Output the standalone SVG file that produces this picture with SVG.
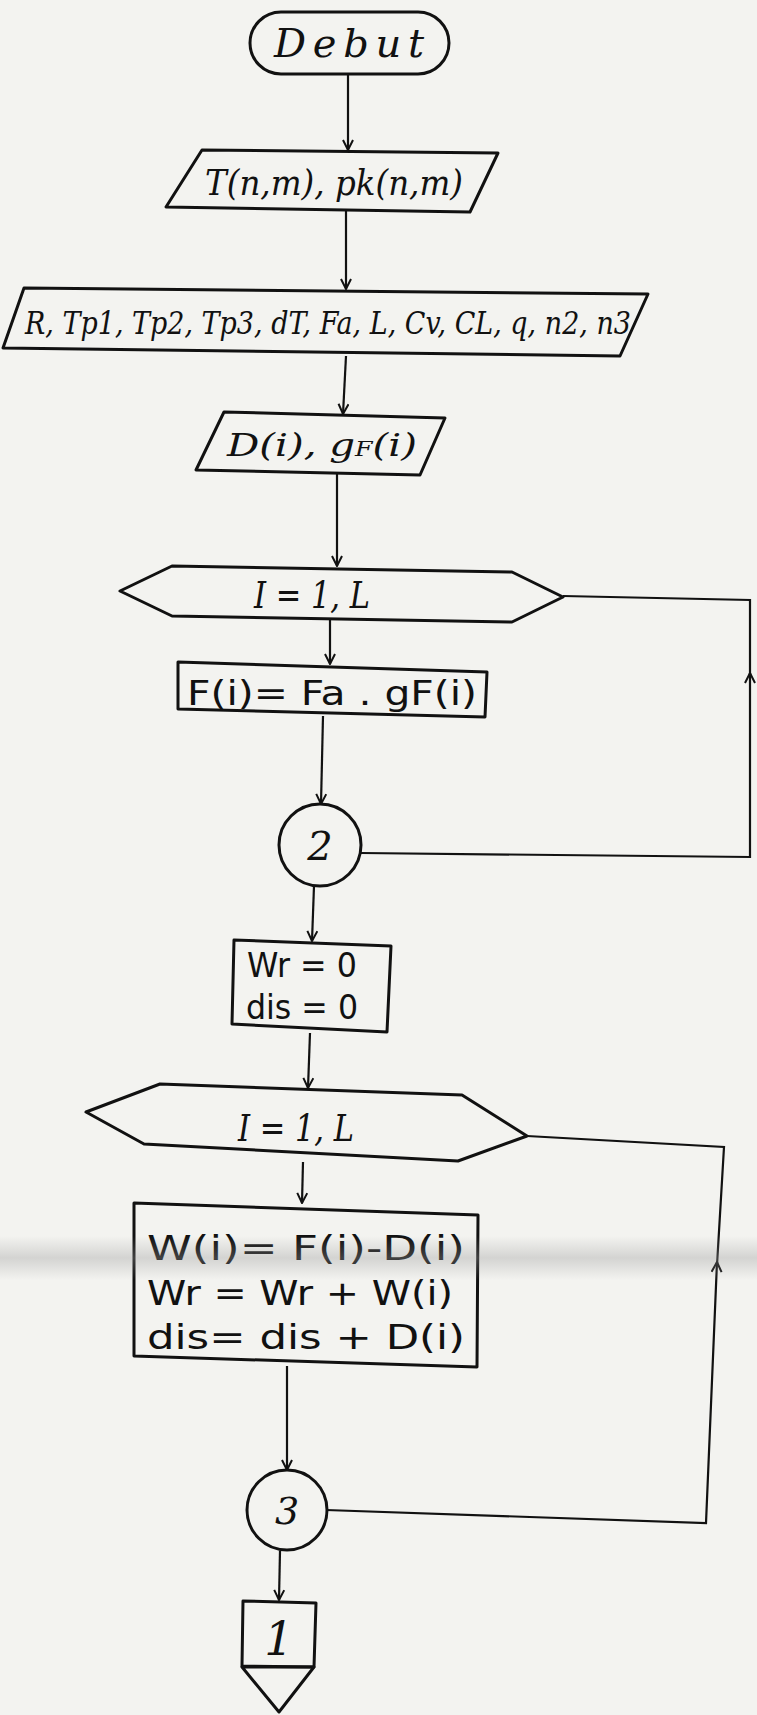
<svg xmlns="http://www.w3.org/2000/svg" width="757" height="1715" viewBox="0 0 757 1715">
<defs>
<marker id="arr" viewBox="0 0 12 12" refX="11" refY="6" markerWidth="12" markerHeight="12" markerUnits="userSpaceOnUse" orient="auto">
<path d="M1,1 L11,6 L1,11" fill="none" stroke="#111" stroke-width="2"/>
</marker>
<linearGradient id="band" x1="0" y1="0" x2="0" y2="1">
<stop offset="0" stop-color="#999" stop-opacity="0"/>
<stop offset="0.5" stop-color="#999" stop-opacity="0.35"/>
<stop offset="1" stop-color="#999" stop-opacity="0"/>
</linearGradient>
</defs>
<style>
.s{fill:none;stroke:#111;stroke-width:3;stroke-linejoin:round}
.c{fill:none;stroke:#111;stroke-width:2.2}
.hs{font-family:"DejaVu Serif","Liberation Serif",serif;font-style:italic;fill:#111}
.hn{font-family:"DejaVu Sans","Liberation Sans",sans-serif;fill:#111}
</style>
<rect width="757" height="1715" fill="#f3f3f0"/>

<g id="connectors">
<path class="c" d="M348,74 L348,150" marker-end="url(#arr)"/>
<path class="c" d="M346,210 L346,289" marker-end="url(#arr)"/>
<path class="c" d="M346,356 L343,414" marker-end="url(#arr)"/>
<path class="c" d="M337,473 L337,566" marker-end="url(#arr)"/>
<path class="c" d="M330,619 L330,664" marker-end="url(#arr)"/>
<path class="c" d="M323,716 L321,804" marker-end="url(#arr)"/>
<path class="c" d="M361,853 L750,857 L750,673" marker-end="url(#arr)"/>
<path class="c" d="M750,676 L750,600 L563,596"/>
<path class="c" d="M314,886 L312,941" marker-end="url(#arr)"/>
<path class="c" d="M310,1033 L308,1088" marker-end="url(#arr)"/>
<path class="c" d="M303,1162 L302,1203" marker-end="url(#arr)"/>
<path class="c" d="M287,1366 L287,1470" marker-end="url(#arr)"/>
<path class="c" d="M326,1510 L706,1523 L717,1262" marker-end="url(#arr)"/>
<path class="c" d="M717,1265 L724,1147 L527,1136"/>
<path class="c" d="M280,1551 L279,1600" marker-end="url(#arr)"/>
</g>

<g id="debut">
<rect class="s" x="250" y="12" width="199" height="62" rx="31"/>
<text class="hs" x="349" y="57" font-size="40" text-anchor="middle" textLength="150" lengthAdjust="spacing">Debut</text>
</g>

<g id="input1">
<polygon class="s" points="202,150 498,153 470,212 166,207"/>
<text class="hs" x="334" y="195" font-size="36" text-anchor="middle" textLength="258" lengthAdjust="spacingAndGlyphs">T(n,m), pk(n,m)</text>
</g>

<g id="input2">
<polygon class="s" points="24,288 648,294 620,356 3,348"/>
<text class="hs" x="328" y="334" font-size="32" text-anchor="middle" textLength="606" lengthAdjust="spacingAndGlyphs">R, Tp1, Tp2, Tp3, dT, Fa, L, Cv, CL, q, n2, n3</text>
</g>

<g id="input3">
<polygon class="s" points="224,412 445,418 420,475 196,470"/>
<text class="hs" x="322" y="456" font-size="32" text-anchor="middle" textLength="190" lengthAdjust="spacingAndGlyphs">D(i), g<tspan font-size="20">F</tspan>(i)</text>
</g>

<g id="loop1">
<polygon class="s" points="120,591 172,566 512,572 563,597 512,622 172,616"/>
<text class="hs" x="312" y="608" font-size="38" text-anchor="middle" textLength="116" lengthAdjust="spacingAndGlyphs">I = 1, L</text>
</g>

<g id="calcF">
<polygon class="s" points="178,662 487,672 485,717 178,709"/>
<text class="hn" x="332" y="705" font-size="34" text-anchor="middle" textLength="290" lengthAdjust="spacingAndGlyphs">F(i)= Fa . gF(i)</text>
</g>

<g id="conn2">
<circle class="s" cx="320" cy="845" r="41"/>
<text class="hs" x="320" y="860" font-size="40" text-anchor="middle">2</text>
</g>

<g id="init">
<polygon class="s" points="234,940 391,946 387,1032 232,1024"/>
<text class="hn" x="302" y="977" font-size="33" text-anchor="middle" textLength="110" lengthAdjust="spacingAndGlyphs">Wr = 0</text>
<text class="hn" x="302" y="1019" font-size="33" text-anchor="middle" textLength="112" lengthAdjust="spacingAndGlyphs">dis = 0</text>
</g>

<g id="loop2">
<polygon class="s" points="86,1112 160,1084 462,1095 527,1136 458,1161 144,1144"/>
<text class="hs" x="296" y="1141" font-size="38" text-anchor="middle" textLength="116" lengthAdjust="spacingAndGlyphs">I = 1, L</text>
</g>

<g id="calcW">
<polygon class="s" points="134,1203 478,1215 477,1367 134,1356"/>
<text class="hn" x="306" y="1260" font-size="33" text-anchor="middle" textLength="318" lengthAdjust="spacingAndGlyphs">W(i)= F(i)-D(i)</text>
<text class="hn" x="300" y="1305" font-size="33" text-anchor="middle" textLength="306" lengthAdjust="spacingAndGlyphs">Wr = Wr + W(i)</text>
<text class="hn" x="306" y="1349" font-size="33" text-anchor="middle" textLength="318" lengthAdjust="spacingAndGlyphs">dis= dis + D(i)</text>
</g>

<g id="conn3">
<circle class="s" cx="287" cy="1510" r="40"/>
<text class="hs" x="287" y="1524" font-size="38" text-anchor="middle">3</text>
</g>

<g id="offpage1">
<polygon class="s" points="243,1601 316,1603 314,1667 242,1666"/>
<polygon class="s" points="242,1667 314,1667 279,1712"/>
<text class="hs" x="279" y="1655" font-size="46" text-anchor="middle" font-style="normal">1</text>
</g>

<rect x="0" y="1236" width="757" height="44" fill="url(#band)"/>
</svg>
